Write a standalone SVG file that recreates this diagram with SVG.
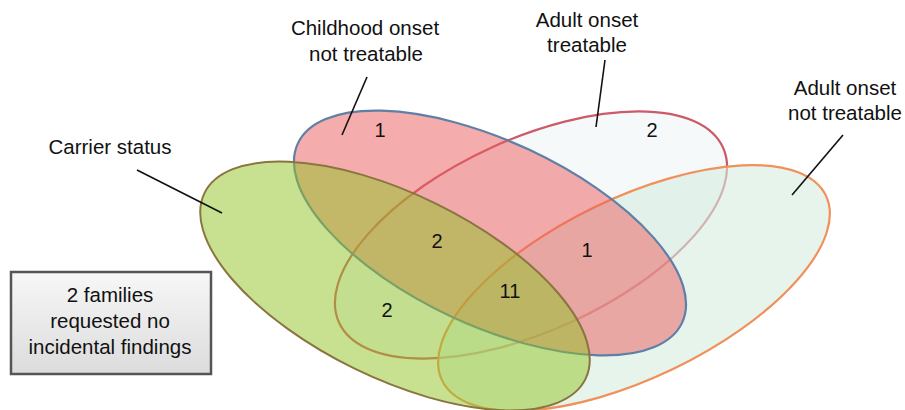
<svg xmlns="http://www.w3.org/2000/svg" width="905" height="410" viewBox="0 0 905 410">
<defs>
<linearGradient id="boxg" x1="0" y1="0" x2="0" y2="1">
<stop offset="0" stop-color="#f7f7f7"/>
<stop offset="1" stop-color="#dcdcdc"/>
</linearGradient>
</defs>
<style>
text{font-family:"Liberation Sans",Arial,sans-serif;fill:#111;text-anchor:middle}
.lbl{font-size:20.5px}
.num{font-size:20px}
.lead{stroke:#111;stroke-width:1.6;fill:none}
</style>
<rect width="905" height="410" fill="#ffffff"/>
<g id="set-adult-treatable">
<ellipse cx="531" cy="235" rx="211" ry="96" transform="rotate(-24.5 531 235)" fill="#f6f9fa" stroke="#cc5a68" stroke-width="2.2"/>
</g>
<g id="set-adult-not-treatable">
<ellipse cx="634" cy="288" rx="213" ry="90" transform="rotate(-25.7 634 288)" fill="#d5ecdf" fill-opacity="0.6" stroke="#f0905a" stroke-width="2.2"/>
</g>
<g id="set-childhood">
<ellipse cx="490" cy="233" rx="212" ry="92" transform="rotate(25 490 233)" fill="#ec5a5a" fill-opacity="0.5" stroke="#5f7fa6" stroke-width="2.2"/>
</g>
<g id="set-carrier">
<ellipse cx="395" cy="286" rx="212" ry="92" transform="rotate(26 395 286)" fill="#91c323" fill-opacity="0.5" stroke="#8a7440" stroke-width="2"/>
</g>
<g id="connectors">
<line class="lead" x1="367" y1="77" x2="342" y2="135"/>
<line class="lead" x1="605" y1="60" x2="596" y2="127"/>
<line class="lead" x1="843" y1="135" x2="792" y2="195"/>
<line class="lead" x1="137" y1="170" x2="222" y2="213"/>
</g>
<g id="labels">
<text class="lbl" x="365" y="35">Childhood onset</text>
<text class="lbl" x="366" y="61">not treatable</text>
<text class="lbl" x="587" y="27">Adult onset</text>
<text class="lbl" x="587" y="52">treatable</text>
<text class="lbl" x="845" y="95">Adult onset</text>
<text class="lbl" x="845" y="120">not treatable</text>
<text class="lbl" x="110" y="154">Carrier status</text>
</g>
<g id="counts">
<text class="num" x="380" y="137">1</text>
<text class="num" x="652" y="137">2</text>
<text class="num" x="437" y="248">2</text>
<text class="num" x="510" y="298">11</text>
<text class="num" x="387" y="317">2</text>
<text class="num" x="587" y="257">1</text>
</g>
<g id="note-box">
<rect x="11" y="272" width="200" height="102" fill="url(#boxg)" stroke="#555555" stroke-width="2.5"/>
<text class="lbl" x="110" y="302">2 families</text>
<text class="lbl" x="110" y="328">requested no</text>
<text class="lbl" x="110" y="354">incidental findings</text>
</g>
</svg>
